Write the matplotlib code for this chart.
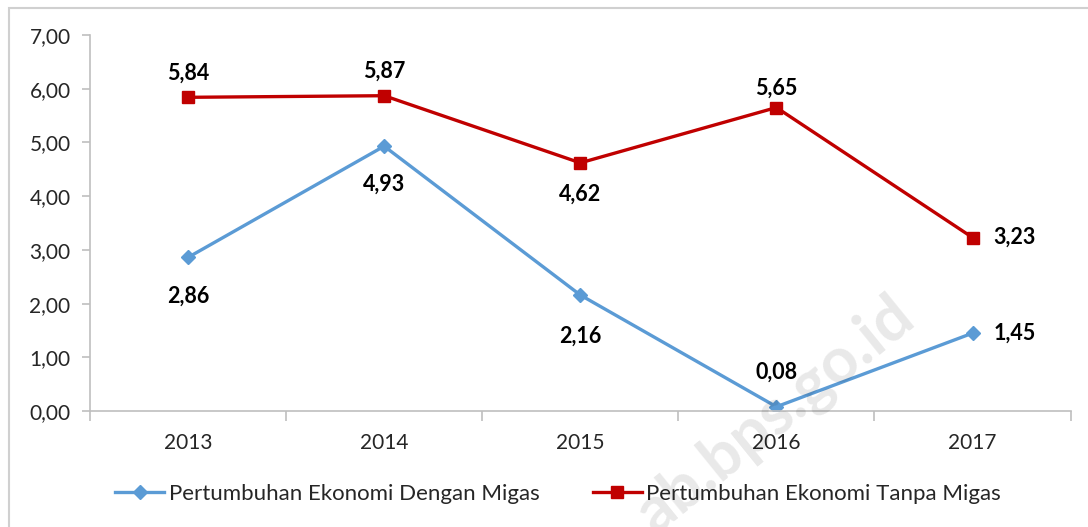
import matplotlib.pyplot as plt
from matplotlib.patches import Rectangle

years = ["2013", "2014", "2015", "2016", "2017"]
dengan_migas = [2.86, 4.93, 2.16, 0.08, 1.45]
tanpa_migas = [5.84, 5.87, 4.62, 5.65, 3.23]

BLUE = "#5B9BD5"
RED = "#C00000"
GRID = "#BFBFBF"

plt.rcParams["font.family"] = ["Lato", "DejaVu Sans"]

def fmt(v):
    return f"{v:.2f}".replace(".", ",")

fig = plt.figure(figsize=(10.88, 5.27), dpi=100)
ax = fig.add_axes([0.0827, 0.220, 0.9013, 0.7136])

x = list(range(len(years)))
ax.plot(x, dengan_migas, color=BLUE, lw=2.4, marker="D", ms=7,
        label="Pertumbuhan Ekonomi Dengan Migas")
ax.plot(x, tanpa_migas, color=RED, lw=2.4, marker="s", ms=9,
        label="Pertumbuhan Ekonomi Tanpa Migas")

ax.set_xlim(-0.5, len(years) - 0.5)
ax.set_ylim(0, 7)
ax.set_yticks([0, 1, 2, 3, 4, 5, 6, 7])
ax.set_yticklabels([fmt(v) for v in range(8)], fontsize=15, color="#262626")
ax.set_xticks([i - 0.5 for i in range(len(years) + 1)])
ax.set_xticklabels([])
ax.set_xticks(x, minor=True)
ax.set_xticklabels(years, minor=True, fontsize=15, color="#262626")
ax.tick_params(axis="x", which="major", length=7, color=GRID, width=1.2)
ax.tick_params(axis="x", which="minor", length=0, pad=16)
ax.tick_params(axis="y", length=6, color=GRID, width=1.2, pad=8)
for s in ["top", "right"]:
    ax.spines[s].set_visible(False)
for s in ["left", "bottom"]:
    ax.spines[s].set_color(GRID)
    ax.spines[s].set_linewidth(1.2)

# data labels: (dx px, dy px) offsets
blue_off = [(0, -39), (0, -38), (0, -41), (0, 35), (42, 0)]
red_off = [(0, 24), (0, 24), (0, -31), (0, 19), (42, 0)]
for xi, v, off in zip(x, dengan_migas, blue_off):
    ax.annotate(fmt(v), (xi, v), xytext=(off[0] * 0.72, off[1] * 0.72),
                textcoords="offset points", ha="center", va="center",
                fontsize=15.5, fontweight="bold", color="black")
for xi, v, off in zip(x, tanpa_migas, red_off):
    ax.annotate(fmt(v), (xi, v), xytext=(off[0] * 0.72, off[1] * 0.72),
                textcoords="offset points", ha="center", va="center",
                fontsize=15.5, fontweight="bold", color="black")

leg = fig.legend(loc="center", bbox_to_anchor=(0.513, 0.063), ncol=2,
                 frameon=False, fontsize=16, handlelength=2.2,
                 columnspacing=2.4, handletextpad=0.2)
for t in leg.get_texts():
    t.set_color("#262626")

# outer chart border
fig.patches.append(Rectangle((9 / 1088, -0.1), 1.2, 1 - 8 / 527 + 0.1,
                             transform=fig.transFigure, fill=False,
                             edgecolor="#D0D0D0", lw=1.5))

# watermark
fig.text(0.712, 0.212, "ab.bps.go.id", rotation=39, fontsize=46,
         fontweight="bold", color="#000000", alpha=0.09,
         ha="center", va="center")

fig.savefig("out.png", dpi=100)
